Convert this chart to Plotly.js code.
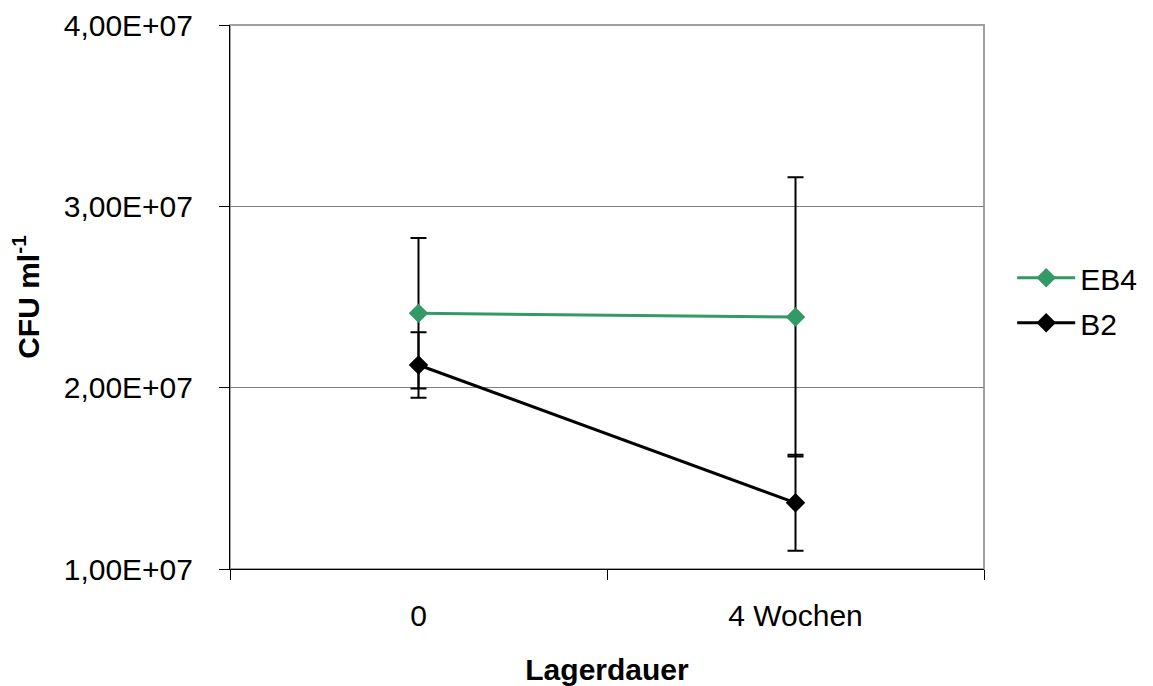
<!DOCTYPE html>
<html>
<head>
<meta charset="utf-8">
<script src="https://cdn.plot.ly/plotly-3.0.1.min.js"></script>
<style>html,body{margin:0;padding:0;background:#fff;}#chart{width:1153px;height:686px;}</style>
</head>
<body>
<div id="chart"></div>
<script>
const categories = ['0', '4 Wochen'];
const eb4Values = [2.41e7, 2.39e7];
const eb4Errors = [0.415e7, 0.77e7];
const b2Values = [2.125e7, 1.365e7];
const b2Errors = [0.18e7, 0.265e7];
const yTickVals = [1e7, 2e7, 3e7, 4e7];
const yTickText = ['1,00E+07', '2,00E+07', '3,00E+07', '4,00E+07'];

const font = 'Liberation Sans, Arial, sans-serif';

const traces = [
  {
    name: 'EB4', legendgroup: 'a', x: categories, y: eb4Values, type: 'scatter', mode: 'lines+markers',
    line: {color: '#339966', width: 3},
    marker: {symbol: 'diamond', size: 15, color: '#339966'},
    error_y: {type: 'data', array: eb4Errors, visible: true, color: '#000000', thickness: 2, width: 8}
  },
  {
    name: 'B2', legendgroup: 'b', x: categories, y: b2Values, type: 'scatter', mode: 'lines+markers',
    line: {color: '#000000', width: 3},
    marker: {symbol: 'diamond', size: 15, color: '#000000'},
    error_y: {type: 'data', array: b2Errors, visible: true, color: '#000000', thickness: 2, width: 8}
  }
];

const layout = {
  width: 1153, height: 686,
  margin: {l: 230, r: 168, t: 25, b: 117},
  paper_bgcolor: '#ffffff', plot_bgcolor: '#ffffff',
  font: {family: font, size: 30, color: '#000000'},
  showlegend: true,
  legend: {x: 1.036, xanchor: 'left', y: 0.583, yanchor: 'top', font: {size: 30}, itemwidth: 58, tracegroupgap: 3, bgcolor: 'rgba(0,0,0,0)', borderwidth: 0},
  xaxis: {
    type: 'category', range: [-0.5, 1.5],
    tickson: 'boundaries', ticks: 'outside', ticklen: 10, tickcolor: '#000', tickwidth: 1,
    showline: true, linecolor: '#000', linewidth: 1, showgrid: false, zeroline: false,
    tickfont: {size: 30}, ticklabelstandoff: 20,
    title: {text: '<b>Lagerdauer</b>', font: {size: 30}, standoff: 28}
  },
  yaxis: {
    range: [1e7, 4e7], tickvals: yTickVals, ticktext: yTickText,
    ticks: 'outside', ticklen: 10, tickcolor: '#000', tickwidth: 1,
    showline: true, linecolor: '#000', linewidth: 1,
    showgrid: true, gridcolor: '#808080', gridwidth: 1, zeroline: false,
    tickfont: {size: 30}, ticklabelstandoff: 20,
    title: {text: '<b>CFU ml<sup>-1</sup></b>', font: {size: 30}, standoff: 15}
  },
  shapes: [
    {type: 'rect', xref: 'paper', yref: 'paper', x0: 0, x1: 1, y0: 0, y1: 1, line: {color: '#a0a0a0', width: 2}, layer: 'below'}
  ]
};

Plotly.newPlot('chart', traces, layout, {displayModeBar: false, staticPlot: true});
</script>
</body>
</html>
